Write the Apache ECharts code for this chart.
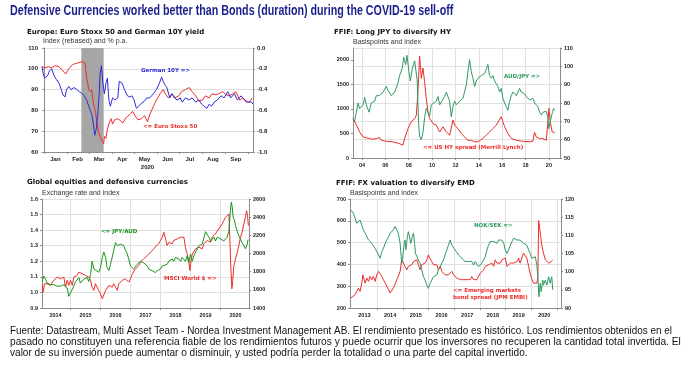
<!DOCTYPE html>
<html><head><meta charset="utf-8">
<script src="https://cdn.jsdelivr.net/npm/echarts@6/dist/echarts.min.js"></script>
<style>html,body{margin:0;padding:0;background:#fff}#c{width:688px;height:368px}</style>
</head><body><div id="c"></div>
<script>
// ---------- Panel 1: Euro Stoxx 50 (left, index) and German 10Y (right, %) ; x = day of 2020 ----------
const p1MonthNames = ['Jan','Feb','Mar','Apr','May','Jun','Jul','Aug','Sep'];
const p1MonthStarts = [0,31,60,91,121,152,182,213,244,274];
const p1LabelDays = [15,45,74,105,135,166,196,227,258];
const p1ShadeDays = [50,80];
const stoxxDays = [-3,1,6,10,15,20,24,29,33,38,42,47,51,55,57,60,62,64,66,69,71,73,75,78,80,81,83,85,88,90,92,95,99,103,106,110,115,119,123,126,131,135,139,142,147,151,156,160,163,167,172,176,181,185,190,195,199,204,208,213,217,222,226,231,235,240,245,249,254,258,263,267,272,276,280];
const stoxxVals = [101,100.5,101,100.5,101.5,101,99.5,97.5,100,102,102.5,103,103.5,102.5,96,90,89,90,84,79,74,70,67.5,65,64,67.5,66.5,71,74.5,76,73.5,75.5,76,75,74,76.5,78,79.5,77,75.5,76,77.5,74.5,78,82,85,88,90,88,86,88,86,87,89,90,91,89,87,84.5,85,87,86,88,87.5,88,89,87.5,87,88,89,85,86,84,84,86];
const bundDays = [-3,-1,1,5,7,10,13,16,20,23,25,28,30,33,36,40,44,47,50,54,57,60,62,64,66,68,70,72,74,75,77,79,81,83,85,87,89,92,95,99,101,105,108,112,115,118,121,124,127,131,135,138,142,147,151,155,158,160,163,165,169,172,175,179,183,186,190,195,199,204,208,212,215,219,222,225,229,233,238,242,247,251,256,260,265,270,274,279,281];
const bundVals = [-0.18,-0.26,-0.29,-0.26,-0.22,-0.20,-0.26,-0.30,-0.34,-0.40,-0.45,-0.47,-0.40,-0.37,-0.40,-0.38,-0.40,-0.42,-0.43,-0.46,-0.50,-0.56,-0.60,-0.64,-0.72,-0.84,-0.78,-0.64,-0.44,-0.26,-0.17,-0.34,-0.44,-0.34,-0.29,-0.50,-0.56,-0.48,-0.50,-0.48,-0.32,-0.34,-0.40,-0.46,-0.47,-0.46,-0.50,-0.58,-0.56,-0.53,-0.51,-0.48,-0.48,-0.44,-0.40,-0.34,-0.28,-0.32,-0.36,-0.38,-0.48,-0.44,-0.48,-0.50,-0.48,-0.52,-0.48,-0.50,-0.48,-0.52,-0.50,-0.54,-0.56,-0.58,-0.54,-0.56,-0.52,-0.50,-0.46,-0.48,-0.42,-0.48,-0.44,-0.50,-0.46,-0.50,-0.52,-0.52,-0.54];

// ---------- Panel 2: US HY spread (left, bp) and AUD/JPY (right) ; x = year ----------
const p2Ticks = [2004,2006,2008,2010,2012,2014,2016,2018,2020];
const hyX = [2003.23,2003.52,2003.80,2004.09,2004.37,2004.66,2004.94,2005.23,2005.51,2005.65,2006.08,2006.65,2007.22,2007.51,2007.65,2007.94,2008.22,2008.51,2008.65,2008.79,2008.93,2009.08,2009.22,2009.36,2009.50,2009.65,2009.79,2010.08,2010.36,2010.65,2010.93,2011.22,2011.50,2011.64,2011.79,2011.93,2012.21,2012.50,2012.78,2013.07,2013.36,2013.64,2013.93,2014.07,2014.35,2014.64,2014.92,2015.21,2015.49,2015.92,2016.06,2016.21,2016.49,2016.78,2017.21,2017.78,2018.35,2018.63,2018.77,2018.92,2019.20,2019.49,2019.77,2019.89,2020.00,2020.12,2020.28,2020.40,2020.51];
const hyY = [805,670,530,430,410,395,380,395,420,360,340,330,290,260,400,600,740,800,870,1350,2070,1620,1830,1560,1215,940,805,700,670,530,635,530,465,500,770,670,600,500,430,360,360,330,330,340,400,465,530,600,670,840,740,635,500,400,360,340,330,340,520,430,395,395,360,670,1010,740,530,500,520];
const audX = [2003.23,2003.37,2003.52,2003.66,2003.80,2004.09,2004.23,2004.37,2004.60,2004.80,2005.08,2005.23,2005.51,2005.80,2006.08,2006.22,2006.51,2006.80,2007.08,2007.22,2007.45,2007.57,2007.74,2007.85,2008.02,2008.14,2008.31,2008.51,2008.65,2008.73,2008.85,2008.93,2009.08,2009.22,2009.36,2009.50,2009.65,2009.79,2009.93,2010.08,2010.36,2010.50,2010.65,2010.79,2011.07,2011.22,2011.36,2011.50,2011.64,2011.79,2011.93,2012.07,2012.36,2012.64,2012.93,2013.07,2013.21,2013.36,2013.50,2013.64,2013.78,2013.93,2014.21,2014.50,2014.64,2014.78,2014.92,2015.07,2015.21,2015.35,2015.49,2015.64,2015.78,2015.92,2016.06,2016.21,2016.35,2016.49,2016.64,2016.78,2016.92,2017.06,2017.21,2017.35,2017.49,2017.63,2017.78,2017.92,2018.06,2018.20,2018.35,2018.63,2018.77,2018.92,2019.06,2019.20,2019.35,2019.49,2019.63,2019.77,2019.91,2020.00,2020.12,2020.26,2020.40,2020.51];
const audY = [71.6,70,75,80,77,79,83,79,75,80,81,84,84,86,89,87,84,86,91,95,99,105,101,106,97,92,99,103,104,92,68,62,60,64,72,77,78,73,79,80,81,83.5,79,80,83.5,86,87,81,72.5,78,81,79,81,82.5,90,97,103.6,97,93.5,89,92,93.5,95,96,95,101,95,93.5,95,92,91,89,86,88,82.5,80,78,76,81,84,86,87,84,86,88,86,87,85,83.5,84,81.7,82.5,80,79,78,75,73.5,75,75,75.5,72.5,66,70,74,77,76];

// ---------- Panel 3: JPY/AUD (left) and MSCI World $ (right) ; x = year ----------
const p3Ticks = [2015,2016,2017,2018,2019,2020];
const p3Labels = [2014.5,2015.5,2016.5,2017.5,2018.5,2019.5,2020.5];
const jpyX = [2014.06,2014.11,2014.17,2014.22,2014.33,2014.44,2014.56,2014.67,2014.78,2014.89,2014.94,2015.00,2015.11,2015.17,2015.28,2015.33,2015.44,2015.56,2015.61,2015.67,2015.72,2015.78,2015.83,2015.94,2016.00,2016.06,2016.11,2016.17,2016.22,2016.28,2016.33,2016.39,2016.44,2016.50,2016.56,2016.61,2016.67,2016.72,2016.78,2016.83,2016.89,2016.94,2017.00,2017.06,2017.11,2017.17,2017.22,2017.28,2017.33,2017.44,2017.56,2017.61,2017.67,2017.72,2017.78,2017.83,2017.89,2018.00,2018.06,2018.11,2018.22,2018.28,2018.33,2018.39,2018.44,2018.50,2018.61,2018.67,2018.72,2018.78,2018.83,2018.89,2018.94,2019.00,2019.06,2019.11,2019.17,2019.22,2019.28,2019.33,2019.39,2019.44,2019.50,2019.56,2019.61,2019.67,2019.72,2019.78,2019.83,2019.89,2019.94,2020.00,2020.06,2020.11,2020.17,2020.22,2020.28,2020.33,2020.36,2020.39,2020.42,2020.47,2020.50,2020.56,2020.61,2020.67,2020.72,2020.78,2020.83,2020.89,2020.92];
const jpyY = [1.07,1.105,1.085,1.06,1.05,1.05,1.04,1.04,1.05,1.03,0.975,0.997,1.04,1.07,1.095,1.06,1.085,1.095,1.07,1.116,1.2,1.15,1.14,1.13,1.16,1.225,1.26,1.225,1.16,1.14,1.18,1.225,1.27,1.32,1.3,1.29,1.31,1.3,1.3,1.27,1.25,1.215,1.17,1.16,1.15,1.16,1.18,1.17,1.2,1.19,1.17,1.15,1.16,1.14,1.15,1.127,1.14,1.15,1.17,1.16,1.18,1.2,1.19,1.215,1.2,1.225,1.215,1.2,1.225,1.215,1.2,1.235,1.19,1.246,1.2,1.235,1.26,1.27,1.3,1.29,1.31,1.32,1.39,1.38,1.355,1.33,1.32,1.355,1.33,1.355,1.365,1.345,1.355,1.33,1.32,1.355,1.394,1.525,1.58,1.55,1.485,1.46,1.43,1.39,1.365,1.34,1.32,1.3,1.28,1.31,1.34];
const msciX = [2014.06,2014.09,2014.13,2014.17,2014.22,2014.33,2014.44,2014.56,2014.67,2014.72,2014.78,2014.83,2014.89,2014.94,2015.00,2015.06,2015.11,2015.17,2015.22,2015.28,2015.33,2015.39,2015.44,2015.50,2015.56,2015.61,2015.67,2015.72,2015.78,2015.83,2015.89,2015.94,2016.00,2016.06,2016.11,2016.17,2016.22,2016.28,2016.33,2016.39,2016.44,2016.50,2016.56,2016.61,2016.67,2016.72,2016.78,2016.83,2016.89,2016.94,2017.00,2017.06,2017.11,2017.17,2017.22,2017.28,2017.33,2017.39,2017.44,2017.50,2017.56,2017.61,2017.67,2017.72,2017.78,2017.83,2017.89,2017.94,2018.00,2018.06,2018.11,2018.17,2018.22,2018.28,2018.33,2018.39,2018.44,2018.50,2018.56,2018.61,2018.67,2018.72,2018.78,2018.83,2018.89,2018.94,2018.98,2019.02,2019.06,2019.11,2019.17,2019.22,2019.28,2019.33,2019.39,2019.44,2019.50,2019.56,2019.61,2019.67,2019.72,2019.78,2019.83,2019.89,2019.94,2020.00,2020.06,2020.11,2020.17,2020.22,2020.28,2020.31,2020.34,2020.38,2020.41,2020.44,2020.50,2020.56,2020.61,2020.67,2020.72,2020.78,2020.83,2020.87,2020.90,2020.93];
const msciY = [1649,1575,1667,1649,1667,1649,1704,1740,1722,1704,1740,1630,1704,1649,1704,1649,1740,1722,1758,1795,1813,1777,1795,1758,1777,1740,1704,1630,1594,1667,1649,1594,1557,1502,1520,1594,1612,1649,1667,1630,1667,1630,1594,1667,1685,1704,1685,1722,1704,1685,1722,1777,1795,1832,1850,1868,1905,1923,1941,1952,1978,1996,2015,2033,2051,2076,2088,2106,2143,2179,2234,2161,2088,2124,2143,2106,2143,2124,2161,2143,2179,2161,2179,2069,1996,1923,1813,1923,1996,2015,2051,2051,2069,2088,2051,2106,2124,2143,2161,2124,2179,2161,2216,2234,2271,2289,2326,2362,2399,2417,2435,2179,1886,1612,1704,1850,1941,2015,2088,2179,2234,2326,2399,2472,2417,2307];

// ---------- Panel 4: EM bond spread (left, bp) and NOK/SEK (right) ; x = year ----------
const p4Ticks = [2014,2015,2016,2017,2018,2019,2020,2021];
const p4Labels = [2013.5,2014.5,2015.5,2016.5,2017.5,2018.5,2019.5,2020.5];
const embiX = [2012.97,2013.05,2013.14,2013.20,2013.27,2013.33,2013.40,2013.44,2013.49,2013.53,2013.59,2013.66,2013.72,2013.79,2013.85,2013.92,2013.98,2014.05,2014.11,2014.18,2014.24,2014.31,2014.37,2014.44,2014.50,2014.56,2014.63,2014.69,2014.76,2014.82,2014.89,2014.95,2015.02,2015.08,2015.15,2015.21,2015.28,2015.34,2015.41,2015.47,2015.54,2015.60,2015.67,2015.73,2015.80,2015.86,2015.93,2015.99,2016.06,2016.12,2016.19,2016.25,2016.32,2016.38,2016.45,2016.51,2016.58,2016.64,2016.71,2016.77,2016.84,2016.90,2016.97,2017.03,2017.10,2017.16,2017.23,2017.29,2017.36,2017.42,2017.49,2017.55,2017.62,2017.68,2017.75,2017.81,2017.88,2017.94,2018.01,2018.07,2018.14,2018.20,2018.27,2018.33,2018.40,2018.46,2018.53,2018.59,2018.66,2018.72,2018.79,2018.85,2018.92,2018.98,2019.05,2019.11,2019.18,2019.24,2019.31,2019.37,2019.44,2019.50,2019.56,2019.63,2019.69,2019.76,2019.82,2019.89,2019.95,2020.02,2020.08,2020.15,2020.21,2020.25,2020.28,2020.32,2020.36,2020.40,2020.44,2020.47,2020.54,2020.60,2020.67,2020.73,2020.77,2020.83];
const embiY = [246,253,261,276,291,276,314,352,330,314,337,322,345,330,345,322,352,368,360,345,330,314,299,284,269,276,291,307,330,345,368,421,413,391,375,391,383,398,413,406,421,398,375,398,391,406,421,444,436,413,398,391,398,375,391,368,360,352,360,352,360,368,352,345,337,345,330,337,330,337,330,337,330,345,330,322,330,337,360,368,375,391,383,398,391,406,391,421,406,413,406,421,413,429,391,398,406,413,406,398,413,429,406,413,452,444,429,391,360,330,314,322,314,345,601,566,528,490,467,452,421,429,406,398,413,421];
const nokX = [2012.97,2013.01,2013.07,2013.14,2013.20,2013.27,2013.33,2013.40,2013.46,2013.53,2013.59,2013.66,2013.72,2013.79,2013.85,2013.92,2013.98,2014.05,2014.11,2014.18,2014.24,2014.31,2014.37,2014.44,2014.50,2014.56,2014.63,2014.69,2014.76,2014.82,2014.89,2014.93,2014.95,2014.99,2015.05,2015.08,2015.12,2015.17,2015.21,2015.25,2015.31,2015.36,2015.41,2015.45,2015.49,2015.54,2015.60,2015.67,2015.73,2015.80,2015.86,2015.93,2015.99,2016.06,2016.12,2016.19,2016.25,2016.32,2016.38,2016.45,2016.51,2016.58,2016.64,2016.71,2016.77,2016.84,2016.90,2016.97,2017.03,2017.10,2017.16,2017.23,2017.29,2017.36,2017.42,2017.49,2017.55,2017.62,2017.68,2017.75,2017.81,2017.88,2017.94,2018.01,2018.07,2018.14,2018.20,2018.27,2018.33,2018.40,2018.46,2018.53,2018.59,2018.66,2018.72,2018.79,2018.85,2018.92,2018.98,2019.05,2019.11,2019.18,2019.24,2019.31,2019.37,2019.44,2019.50,2019.56,2019.63,2019.69,2019.76,2019.82,2019.89,2019.95,2020.02,2020.08,2020.15,2020.21,2020.25,2020.29,2020.34,2020.38,2020.44,2020.47,2020.54,2020.60,2020.67,2020.73,2020.79,2020.83];
const nokY = [117.0,116.5,116.1,114.7,113.3,113.8,114.2,112.8,111.5,110.6,110.1,108.7,109.2,107.8,107.3,106.4,106.0,104.6,103.7,105.5,106.4,107.8,108.7,109.6,110.6,111.0,111.5,112.4,111.5,110.6,107.8,104.1,102.3,104.1,107.8,108.7,106.0,109.6,111.0,110.6,107.8,109.6,110.6,107.8,105.0,105.5,103.2,102.3,100.5,98.6,97.7,96.3,95.4,96.8,97.7,98.6,98.2,99.1,100.5,101.4,102.3,103.2,104.6,106.0,107.3,108.7,107.3,106.9,106.0,105.5,104.6,104.1,103.7,103.2,102.8,102.3,102.8,102.3,102.8,101.8,102.8,102.3,101.4,100.9,102.3,103.2,104.1,106.0,107.3,108.3,108.7,108.3,108.7,107.8,108.7,108.3,108.7,107.8,106.0,105.0,106.0,107.3,108.3,109.2,109.6,108.7,109.2,108.7,108.3,107.8,108.3,107.3,106.0,105.0,103.7,103.2,104.1,101.8,98.6,93.1,96.8,94.5,97.7,96.3,97.7,96.3,98.6,96.8,98.6,95.0];

// ---------- Texts ----------
const mainTitle = 'Defensive Currencies worked better than Bonds (duration) during the COVID-19 sell-off';
const panelTitles = ['Europe: Euro Stoxx 50 and German 10Y yield','FFIF: Long JPY to diversify HY','Global equities and defensive currencies','FFIF: FX valuation to diversify EMD'];
const panelSubtitles = ['Index (rebased) and % p.a.','Basispoints and index','Exchange rate and index','Basispoints and index'];
const footerLines = [
 'Fuente: Datastream, Multi Asset Team - Nordea Investment Management AB. El rendimiento presentado es histórico. Los rendimientos obtenidos en el',
 'pasado no constituyen una referencia fiable de los rendimientos futuros y puede ocurrir que los inversores no recuperen la cantidad total invertida. El',
 'valor de su inversión puede aumentar o disminuir, y usted podría perder la totalidad o una parte del capital invertido.'
];

const RED = '#ee2b2b', BLUE = '#2c2cdc', SEA = '#2f9a63', GREEN = '#18961c';
const zip = (xs, ys) => xs.map((x, i) => [x, ys[i]]);

const AX = '#8c8c8c', GRIDC = '#e0e0e0';
const lblFont = {color:'#222', fontFamily:'Liberation Sans', fontWeight:'bold', fontSize:5.5};
function yAx(grid, min, max, interval, pos, split, fmt, size, extraLabel) {
  return {
    type:'value', gridIndex:grid, min, max, interval, position:pos,
    axisLine:{show:true, lineStyle:{color:AX}},
    axisTick:{show:true, length:2, lineStyle:{color:AX}},
    splitLine:{show:split, lineStyle:{color:GRIDC, width:1}},
    axisLabel:Object.assign({margin:4, formatter:fmt}, lblFont, {fontSize:size || 5.5}, extraLabel || {})
  };
}
function xAx(grid, min, max, ticks, labels, fmt, split, size, extra) {
  return Object.assign({
    type:'value', gridIndex:grid, min, max,
    axisLine:{show:true, onZero:false, lineStyle:{color:AX}},
    axisTick:{show:true, length:2, customValues:ticks, lineStyle:{color:AX}},
    splitLine:{show:split, lineStyle:{color:GRIDC, width:1}},
    axisLabel:Object.assign({margin:4, customValues:labels, formatter:fmt}, lblFont, {fontSize:size || 5.5})
  }, extra || {});
}
function line(name, xi, yi, data, color, extra) {
  return Object.assign({name, type:'line', xAxisIndex:xi, yAxisIndex:yi, data, symbol:'none',
    lineStyle:{color, width:1}, itemStyle:{color}, animation:false, z:3}, extra || {});
}
function txt(x, y, text, font, fill, sx) {
  return {type:'text', x, y, z:100, scaleX:sx || 1, silent:true, style:{text, font, fill, textAlign:'left', textVerticalAlign:'middle'}};
}

const PT = 'bold 7px "DejaVu Sans"';
const ST = '7px "Liberation Sans"';
const AN = 'bold 5.5px "DejaVu Sans"';
const FT = '11px "Liberation Sans"';

const option = {
  backgroundColor:'#fff',
  animation:false,
  grid:[
    {left:42, top:48, width:211, height:104},
    {left:353, top:48, width:207, height:110},
    {left:42, top:199, width:207, height:109},
    {left:350, top:199, width:211, height:109}
  ],
  xAxis:[
    xAx(0, -3, 281, p1MonthStarts, p1LabelDays, v => p1MonthNames[p1LabelDays.indexOf(v)], false, 6,
        {name:'2020', nameLocation:'middle', nameGap:12, nameTextStyle:Object.assign({}, lblFont, {fontSize:6})}),
    xAx(1, 2003.23, 2020.95, p2Ticks, p2Ticks, v => String(v).slice(2), true),
    xAx(2, 2014.05, 2020.95, p3Ticks, p3Labels, v => String(Math.floor(v)), true),
    xAx(3, 2012.94, 2021.15, p4Ticks, p4Labels, v => String(Math.floor(v)), true)
  ],
  yAxis:[
    yAx(0, 60, 110, 10, 'left', true, v => String(v), 6),
    yAx(0, -1, 0, 0.2, 'right', false, v => v.toFixed(1), 6),
    yAx(1, 0, 2240, 500, 'left', false, v => String(v), 5.5, {showMaxLabel:false}),
    yAx(1, 50, 110, 10, 'right', true, v => String(v)),
    yAx(2, 0.9, 1.6, 0.1, 'left', true, v => v.toFixed(1)),
    yAx(2, 1400, 2600, 200, 'right', false, v => String(v)),
    yAx(3, 200, 700, 100, 'left', true, v => String(v)),
    yAx(3, 90, 120, 5, 'right', false, v => String(v))
  ],
  series:[
    line('Euro Stoxx 50', 0, 0, zip(stoxxDays, stoxxVals), RED, {
      markArea:{silent:true, itemStyle:{color:'#a6a6a6', opacity:1}, data:[[{xAxis:p1ShadeDays[0]},{xAxis:p1ShadeDays[1]}]]}
    }),
    line('German 10Y', 0, 1, zip(bundDays, bundVals), BLUE),
    line('US HY spread', 1, 2, zip(hyX, hyY), RED),
    line('AUD/JPY', 1, 3, zip(audX, audY), SEA),
    line('MSCI World $', 2, 5, zip(msciX, msciY), RED),
    line('JPY/AUD', 2, 4, zip(jpyX, jpyY), GREEN),
    line('EM bond spread', 3, 6, zip(embiX, embiY), RED),
    line('NOK/SEK', 3, 7, zip(nokX, nokY), SEA)
  ],
  graphic:[
    txt(10, 11, mainTitle, 'bold 14px "Liberation Sans"', '#1b1f8c', 0.765),
    txt(27, 32, panelTitles[0], PT, '#111'),
    txt(334, 32, panelTitles[1], PT, '#111'),
    txt(27, 182, panelTitles[2], PT, '#111'),
    txt(336, 183, panelTitles[3], PT, '#111'),
    txt(43, 41, panelSubtitles[0], ST, '#333'),
    txt(353, 42, panelSubtitles[1], ST, '#333'),
    txt(42, 193, panelSubtitles[2], ST, '#333'),
    txt(350, 193, panelSubtitles[3], ST, '#333'),
    txt(141, 71, 'German 10Y =>', AN, BLUE),
    txt(143, 127, '<= Euro Stoxx 50', AN, RED),
    txt(504, 77, 'AUD/JPY =>', AN, SEA),
    txt(423, 148, '<= US HY spread (Merrill Lynch)', AN, RED),
    txt(101, 232, '<= JPY/AUD', AN, GREEN),
    txt(164, 279, 'MSCI World $ =>', AN, RED),
    txt(474, 226, 'NOK/SEK =>', AN, SEA),
    txt(453, 291, '<= Emerging markets', AN, RED),
    txt(453, 298, 'bond spread (JPM EMBI)', AN, RED),
    txt(10, 331, footerLines[0], FT, '#111', 0.90),
    txt(10, 342, footerLines[1], FT, '#111', 0.925),
    txt(10, 353, footerLines[2], FT, '#111', 0.915)
  ]
};
const chart = echarts.init(document.getElementById('c'), null, {renderer:'canvas'});
chart.setOption(option);
</script>
</body></html>
